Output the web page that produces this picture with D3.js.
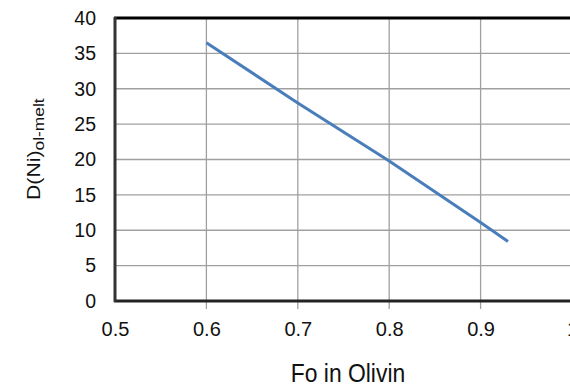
<!DOCTYPE html>
<html><head><meta charset="utf-8">
<script src="https://cdn.jsdelivr.net/npm/d3@7"></script>
<style>body{margin:0;background:#fff}svg{display:block}text{font-family:"Liberation Sans",Arial,sans-serif;fill:#111}</style>
</head><body>
<script>
const foValues = [0.6, 0.7, 0.8, 0.9, 0.93];
const dNiValues = [36.5, 28.0, 19.8, 11.1, 8.4];
const xTicks = [0.5, 0.6, 0.7, 0.8, 0.9, 1.0];
const yTicks = [0, 5, 10, 15, 20, 25, 30, 35, 40];
const xLabel = "Fo in Olivin";

const W = 570, H = 387;
const m = {left: 115, top: 18, right: -2, bottom: 86};
const svg = d3.select("body").append("svg").attr("width", W).attr("height", H);
const x = d3.scaleLinear().domain([0.5, 1.0]).range([m.left, W - m.right]);
const y = d3.scaleLinear().domain([0, 40]).range([H - m.bottom, m.top]);

// gridlines
svg.append("g").selectAll("line").data(yTicks.filter(d => d > 0 && d < 40)).join("line")
  .attr("x1", m.left).attr("x2", W).attr("y1", d => y(d)).attr("y2", d => y(d))
  .attr("stroke", "#a0a0a0").attr("stroke-width", 1.3);
svg.append("g").selectAll("line").data(xTicks.filter(d => d > 0.5 && d < 1)).join("line")
  .attr("y1", y(40)).attr("y2", y(0) + 8).attr("x1", d => x(d)).attr("x2", d => x(d))
  .attr("stroke", "#a0a0a0").attr("stroke-width", 1.3);

// axes via d3
const xAxis = d3.axisBottom(x).tickValues(xTicks).tickFormat(d => d === 1 ? "1" : d3.format(".1f")(d)).tickSize(0).tickPadding(21);
const gx = svg.append("g").attr("transform", `translate(0,${y(0)})`).call(xAxis);
gx.select(".domain").remove();
gx.selectAll("text").style("font-size", "20px").attr("fill", "#111");
gx.selectAll(".tick").filter(d => d === 1).select("text").attr("fill", "#ccc");
const yAxis = d3.axisLeft(y).tickValues(yTicks).tickSize(0).tickPadding(19);
const gy = svg.append("g").attr("transform", `translate(${m.left},0)`).call(yAxis);
gy.select(".domain").remove();
gy.selectAll("text").style("font-size", "19.5px").attr("fill", "#111");

// frame lines
svg.append("line").attr("x1", m.left - 1).attr("x2", W).attr("y1", y(40)).attr("y2", y(40))
  .attr("stroke", "#000").attr("stroke-width", 3);
svg.append("line").attr("x1", m.left - 1).attr("x2", W).attr("y1", y(0)).attr("y2", y(0))
  .attr("stroke", "#222").attr("stroke-width", 3);
svg.append("line").attr("x1", m.left).attr("x2", m.left).attr("y1", y(40) - 1).attr("y2", y(0) + 1)
  .attr("stroke", "#333").attr("stroke-width", 3);

// data line
const line = d3.line().x((d, i) => x(foValues[i])).y(d => y(d));
svg.append("path").datum(dNiValues).attr("d", line).attr("fill", "none")
  .attr("stroke", "#4a7ebb").attr("stroke-width", 3);

// axis titles
svg.append("text").attr("transform", "translate(348,382) scale(0.88,1)").attr("text-anchor", "middle")
  .style("font-size", "26px").text(xLabel);
const yt = svg.append("text").attr("transform", "translate(40,200) rotate(-90) scale(1.12,1)").attr("text-anchor", "start")
  .style("font-size", "19px");
yt.append("tspan").text("D(Ni)");
yt.append("tspan").attr("dy", 4).style("font-size", "15.5px").text("ol-melt");
</script>
</body></html>
